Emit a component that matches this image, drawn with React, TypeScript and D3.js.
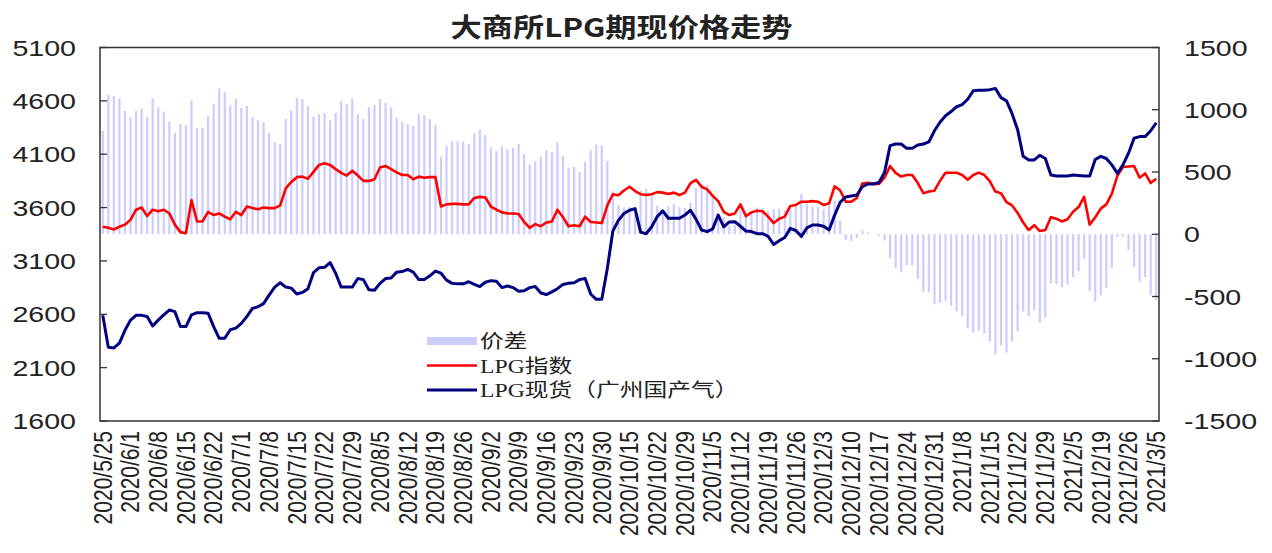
import { useEffect, useRef } from "react";
import * as d3 from "d3";

const width = 1272;
const height = 553;
const margin = { top: 47.5, right: 113, bottom: 132, left: 100 };
const textStretch = 1.3;

const title = "大商所LPG期现价格走势";
const seriesNames = ["价差", "LPG指数", "LPG现货（广州国产气）"];

// one label every 5 trading days
const tickLabels = [
  "2020/5/25", "2020/6/1", "2020/6/8", "2020/6/15", "2020/6/22", "2020/7/1", "2020/7/8",
  "2020/7/15", "2020/7/22", "2020/7/29", "2020/8/5", "2020/8/12", "2020/8/19", "2020/8/26",
  "2020/9/2", "2020/9/9", "2020/9/16", "2020/9/23", "2020/9/30", "2020/10/15", "2020/10/22",
  "2020/10/29", "2020/11/5", "2020/11/12", "2020/11/19", "2020/11/26", "2020/12/3",
  "2020/12/10", "2020/12/17", "2020/12/24", "2020/12/31", "2021/1/8", "2021/1/15",
  "2021/1/22", "2021/1/29", "2021/2/5", "2021/2/19", "2021/2/26", "2021/3/5",
];
const labelEvery = 5;

// LPG指数 (left axis)
const lpgIndex = [
  3421, 3410, 3395, 3420, 3440, 3485, 3580, 3600, 3520, 3580,
  3565, 3580, 3545, 3440, 3370, 3360, 3670, 3470, 3470, 3560,
  3530, 3545, 3515, 3490, 3560, 3530, 3610, 3595, 3585, 3600,
  3595, 3595, 3620, 3780, 3840, 3885, 3890, 3870, 3935, 4000,
  4015, 4000, 3960, 3925, 3900, 3945, 3900, 3850, 3850, 3865,
  3975, 3990, 3960, 3930, 3905, 3905, 3865, 3890, 3880, 3885,
  3885, 3610, 3630, 3635, 3635, 3630, 3630, 3690, 3700, 3695,
  3610, 3580, 3555, 3545, 3545, 3540, 3465, 3410, 3445, 3425,
  3460, 3470, 3580, 3510, 3425, 3435, 3425, 3515, 3465, 3460,
  3455, 3620, 3725, 3715, 3760, 3795, 3755, 3725, 3718, 3725,
  3745, 3740, 3728, 3740, 3718, 3740, 3830, 3860, 3795, 3770,
  3710, 3660, 3560, 3530, 3545, 3630, 3520, 3555, 3570, 3565,
  3515, 3455, 3495, 3515, 3615, 3625, 3655, 3655, 3660, 3655,
  3625, 3640, 3800, 3760, 3655, 3655, 3690, 3825, 3833, 3822,
  3822, 3880, 3990, 3925, 3890, 3905, 3905, 3830, 3735, 3750,
  3758, 3850, 3927, 3927, 3927, 3905, 3860, 3905, 3927, 3905,
  3845, 3750, 3735, 3650, 3620, 3550, 3460, 3390, 3435, 3380,
  3390, 3510, 3495, 3470, 3490, 3560, 3605, 3700, 3440, 3510,
  3590, 3630, 3730, 3900, 3980, 3985, 3990, 3880, 3920, 3830,
  3870,
];

// LPG现货（广州国产气） (left axis)
const lpgSpot = [
  2590, 2290, 2285, 2330, 2450, 2545, 2590, 2590, 2580, 2490,
  2545, 2595, 2640, 2625, 2485, 2485, 2595, 2615, 2615, 2610,
  2485, 2375, 2375, 2455, 2470, 2515, 2580, 2655, 2670, 2700,
  2780, 2855, 2895, 2855, 2845, 2790, 2805, 2840, 2990, 3035,
  3040, 3085, 2985, 2855, 2855, 2855, 2935, 2925, 2830, 2825,
  2890, 2935, 2940, 2995, 3000, 3020, 2995, 2925, 2925, 2960,
  3005, 2985, 2920, 2890, 2885, 2885, 2905, 2880, 2860, 2900,
  2915, 2910, 2850, 2865, 2850, 2815, 2820, 2850, 2860, 2800,
  2785, 2810, 2840, 2880, 2890, 2895, 2925, 2935, 2790, 2740,
  2740, 3030, 3380, 3480, 3545, 3575, 3590, 3370, 3355, 3420,
  3515, 3570, 3500, 3500, 3500, 3530, 3575, 3490, 3390, 3375,
  3400, 3530, 3420, 3465, 3468, 3425, 3380, 3375, 3355, 3355,
  3330, 3255, 3290, 3320, 3405, 3385, 3330, 3410, 3437, 3437,
  3425, 3390, 3530, 3650, 3700, 3709, 3718, 3795, 3821, 3821,
  3835, 3930, 4180, 4196, 4196, 4155, 4155, 4187, 4196, 4215,
  4320, 4400, 4460, 4500, 4545, 4565, 4615, 4695, 4700, 4700,
  4705, 4715, 4630, 4600, 4480, 4330, 4080, 4046, 4046, 4090,
  4060, 3905, 3896, 3896, 3896, 3905, 3900, 3896, 3896, 4050,
  4080, 4060, 4000, 3920, 4000, 4110, 4250, 4265, 4265, 4320,
  4395,
];

// 价差 = 指数 - 现货 (right axis)
const spread = lpgIndex.map((v, i) => v - lpgSpot[i]);

const leftTicks = [1600, 2100, 2600, 3100, 3600, 4100, 4600, 5100];
const rightTicks = [-1500, -1000, -500, 0, 500, 1000, 1500];

const barColor = "#ccccff";
const indexColor = "#ff0000";
const spotColor = "#000080";
const sansFont = "'Liberation Sans', Arial, sans-serif";
const legendFont = "'Liberation Serif', 'Noto Sans CJK SC', serif";

const App = () => {
  const svgRef = useRef(null);

  useEffect(() => {
    const svg = d3.select(svgRef.current);
    svg.selectAll("*").remove();

    const x0 = margin.left;
    const x1 = width - margin.right;
    const yTop = margin.top;
    const yBot = height - margin.bottom;

    const x = d3
      .scaleBand()
      .domain(d3.range(lpgIndex.length))
      .range([x0, x1])
      .paddingInner(0.6)
      .paddingOuter(0.3);
    const cx = (i) => x(i) + x.bandwidth() / 2;

    const yL = d3.scaleLinear().domain([1600, 5100]).range([yBot, yTop]);
    const yR = d3.scaleLinear().domain([-1500, 1500]).range([yBot, yTop]);

    // bars
    svg.append("g")
      .selectAll("rect")
      .data(spread)
      .join("rect")
      .attr("x", (d, i) => x(i))
      .attr("width", x.bandwidth())
      .attr("y", d => Math.min(yR(d), yR(0)))
      .attr("height", d => Math.abs(yR(d) - yR(0)))
      .attr("fill", barColor);

    const line = d3.line().x((d, i) => cx(i)).y(d => yL(d));

    svg.append("path")
      .attr("d", line(lpgIndex))
      .attr("fill", "none")
      .attr("stroke", indexColor)
      .attr("stroke-width", 2.6)
      .attr("stroke-linejoin", "round");

    svg.append("path")
      .attr("d", line(lpgSpot))
      .attr("fill", "none")
      .attr("stroke", spotColor)
      .attr("stroke-width", 3)
      .attr("stroke-linejoin", "round");

    // frame
    svg.append("rect")
      .attr("x", x0).attr("y", yTop)
      .attr("width", x1 - x0).attr("height", yBot - yTop)
      .attr("fill", "none")
      .attr("stroke", "#333")
      .attr("stroke-width", 1.5);

    // left axis
    svg.append("g")
      .selectAll("line")
      .data(leftTicks)
      .join("line")
      .attr("x1", x0).attr("x2", x0 + 7)
      .attr("y1", d => yL(d)).attr("y2", d => yL(d))
      .attr("stroke", "#333").attr("stroke-width", 1.3);
    svg.append("g")
      .selectAll("text")
      .data(leftTicks)
      .join("text")
      .attr("transform", d => `translate(${x0 - 24},${yL(d) + 8}) scale(${textStretch},1)`)
      .attr("text-anchor", "end")
      .attr("font-family", sansFont)
      .attr("font-size", 22)
      .attr("fill", "#222")
      .text(d => d);

    // right axis
    svg.append("g")
      .selectAll("line")
      .data(rightTicks)
      .join("line")
      .attr("x1", x1 - 7).attr("x2", x1)
      .attr("y1", d => yR(d)).attr("y2", d => yR(d))
      .attr("stroke", "#333").attr("stroke-width", 1.3);
    svg.append("g")
      .selectAll("text")
      .data(rightTicks)
      .join("text")
      .attr("transform", d => `translate(${x1 + 25},${yR(d) + 8}) scale(${textStretch},1)`)
      .attr("text-anchor", "start")
      .attr("font-family", sansFont)
      .attr("font-size", 22)
      .attr("fill", "#222")
      .text(d => d);

    // category labels
    svg.append("g")
      .selectAll("text")
      .data(tickLabels)
      .join("text")
      .attr("transform", (d, k) => `translate(${cx(k * labelEvery)},${yBot + 10}) scale(1.2,1) rotate(-90)`)
      .attr("text-anchor", "end")
      .attr("dy", "0.35em")
      .attr("font-family", sansFont)
      .attr("font-size", 21)
      .attr("fill", "#222")
      .text(d => d);

    // title
    svg.append("text")
      .attr("transform", `translate(${(x0 + x1) / 2 - 8},37) scale(1.2,1)`)
      .attr("text-anchor", "middle")
      .attr("font-family", "'Noto Sans CJK SC', sans-serif")
      .attr("font-weight", "bold")
      .attr("font-size", 26)
      .attr("fill", "#222")
      .text(title);

    // legend
    const lg = svg.append("g").attr("transform", "translate(427,341)");
    const rowH = 24.5;
    seriesNames.forEach((name, k) => {
      const gy = k * rowH;
      if (k === 0) {
        lg.append("rect").attr("x", 0).attr("y", gy - 4).attr("width", 50).attr("height", 8).attr("fill", barColor);
      } else {
        lg.append("line")
          .attr("x1", 0).attr("x2", 50).attr("y1", gy).attr("y2", gy)
          .attr("stroke", k === 1 ? indexColor : spotColor)
          .attr("stroke-width", k === 1 ? 2.6 : 3);
      }
      lg.append("text")
        .attr("transform", `translate(53,${gy + 7}) scale(1.25,1)`)
        .attr("font-family", legendFont)
        .attr("font-size", 19)
        .attr("fill", "#222")
        .text(name);
    });
  }, []);

  return (
    <svg
      ref={svgRef}
      width={width}
      height={height}
      style={{ position: "absolute", left: 0, top: 0, background: "#fff" }}
    />
  );
};

export default App;
